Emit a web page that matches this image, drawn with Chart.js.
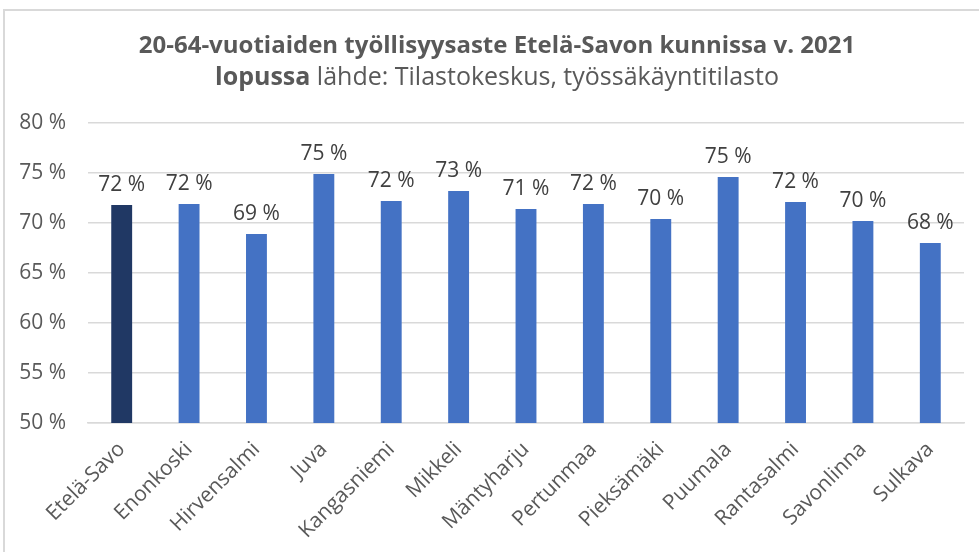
<!DOCTYPE html>
<html>
<head>
<meta charset="utf-8">
<script src="https://cdn.jsdelivr.net/npm/chart.js@4/dist/chart.umd.min.js"></script>
<style>
html,body{margin:0;padding:0;background:#fff;}
#wrap{width:979px;height:552px;position:relative;}
</style>
</head>
<body>
<div id="wrap"><canvas id="c" width="979" height="552"></canvas></div>
<script>
const categories = ["Etelä-Savo","Enonkoski","Hirvensalmi","Juva","Kangasniemi","Mikkeli","Mäntyharju","Pertunmaa","Pieksämäki","Puumala","Rantasalmi","Savonlinna","Sulkava"];
const employmentRate = [71.8, 71.9, 68.9, 74.9, 72.2, 73.2, 71.4, 71.9, 70.4, 74.6, 72.1, 70.2, 68.0];
const barColors = ["#203864","#4472c4","#4472c4","#4472c4","#4472c4","#4472c4","#4472c4","#4472c4","#4472c4","#4472c4","#4472c4","#4472c4","#4472c4"];
const titleLine1 = "20-64-vuotiaiden työllisyysaste Etelä-Savon kunnissa v. 2021";
const titleLine2Bold = "lopussa";
const titleLine2Rest = " lähde: Tilastokeskus, työssäkäyntitilasto";
const yMin = 50, yMax = 80, yStep = 5;

const FONT = "'Open Sans', sans-serif";
const TXT = "#595959";

const framePlugin = {
  id: 'frame',
  beforeDraw(chart) {
    const ctx = chart.ctx;
    ctx.save();
    ctx.fillStyle = '#fff';
    ctx.fillRect(0, 0, chart.width, chart.height);
    ctx.strokeStyle = '#d9d9d9';
    ctx.lineWidth = 2;
    ctx.beginPath();
    ctx.moveTo(4, chart.height);
    ctx.lineTo(4, 10);
    ctx.lineTo(chart.width, 10);
    ctx.stroke();
    ctx.restore();
  }
};

const titlePlugin = {
  id: 'mixedTitle',
  afterDraw(chart) {
    const ctx = chart.ctx;
    ctx.save();
    ctx.fillStyle = TXT;
    ctx.textBaseline = 'alphabetic';
    ctx.textAlign = 'left';
    const cx = 497;
    ctx.font = "bold 24px " + FONT;
    const w1 = ctx.measureText(titleLine1).width;
    ctx.fillText(titleLine1, cx - w1 / 2, 53);
    ctx.font = "bold 25px " + FONT;
    const wb = ctx.measureText(titleLine2Bold).width;
    ctx.font = "25px " + FONT;
    const wr = ctx.measureText(titleLine2Rest).width;
    let x = cx - (wb + wr) / 2;
    ctx.font = "bold 25px " + FONT;
    ctx.fillText(titleLine2Bold, x, 85);
    ctx.font = "25px " + FONT;
    ctx.fillText(titleLine2Rest, x + wb, 85);
    ctx.restore();
  }
};

const labelPlugin = {
  id: 'barLabels',
  afterDatasetsDraw(chart) {
    const ctx = chart.ctx;
    const meta = chart.getDatasetMeta(0);
    const data = chart.data.datasets[0].data;
    ctx.save();
    ctx.font = "21px " + FONT;
    ctx.fillStyle = "#404040";
    ctx.textAlign = 'center';
    ctx.textBaseline = 'alphabetic';
    meta.data.forEach((bar, i) => {
      ctx.fillText(Math.round(data[i]) + " %", bar.x, bar.y - 14);
    });
    ctx.restore();
  }
};

new Chart(document.getElementById('c'), {
  type: 'bar',
  data: {
    labels: categories,
    datasets: [{
      data: employmentRate,
      backgroundColor: barColors,
      barPercentage: 0.31,
      categoryPercentage: 1.0
    }]
  },
  options: {
    responsive: false,
    animation: false,
    layout: { padding: { top: 123, right: 15, left: 0, bottom: 0 } },
    plugins: { legend: { display: false }, tooltip: { enabled: false }, title: { display: false } },
    scales: {
      y: {
        min: yMin, max: yMax,
        ticks: { stepSize: yStep, padding: 22, color: TXT, font: { family: FONT, size: 21 }, callback: v => v + " %" },
        grid: { color: '#d9d9d9', lineWidth: 1.5, drawTicks: false },
        border: { display: false },
        afterFit(scale) { scale.width = 88; }
      },
      x: {
        ticks: { maxRotation: 45, minRotation: 45, padding: 14, color: TXT, font: { family: FONT, size: 21 }, autoSkip: false },
        grid: { display: false, drawTicks: false },
        border: { color: '#d9d9d9', width: 1.5 },
        afterFit(scale) { scale.height = 129; }
      }
    }
  },
  plugins: [framePlugin, titlePlugin, labelPlugin]
});
</script>
</body>
</html>
